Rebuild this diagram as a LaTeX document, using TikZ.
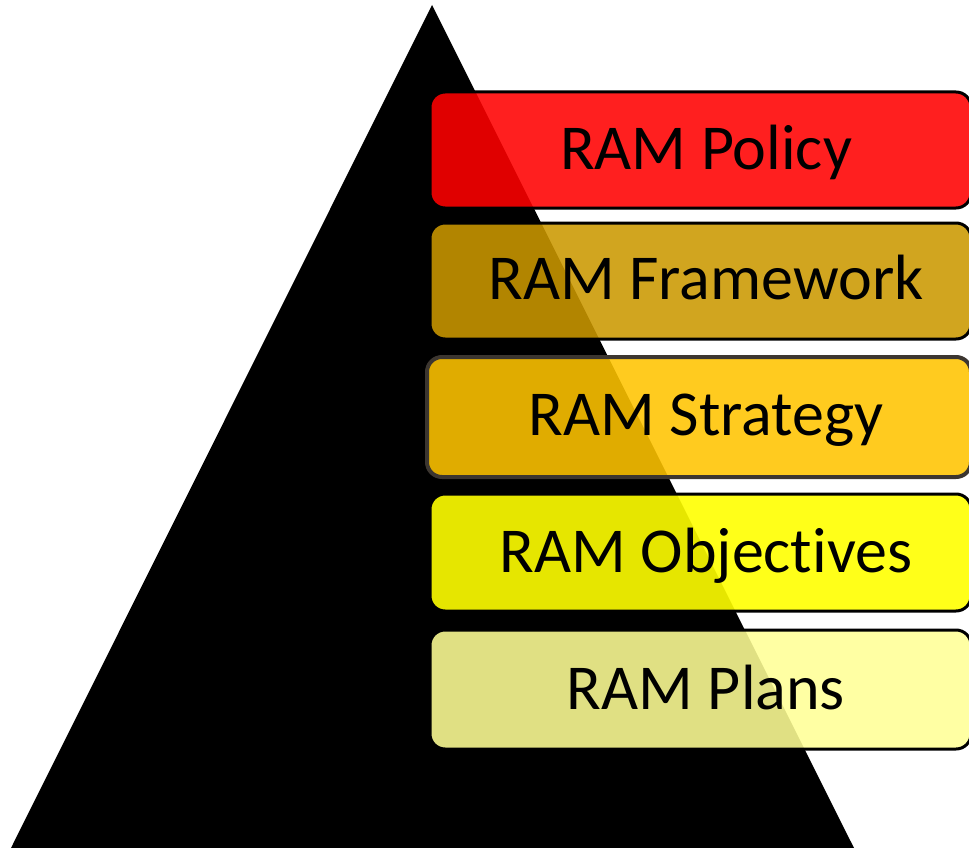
\documentclass[tikz,border=0pt]{standalone}
\usepackage{fontspec}
\setmainfont{Carlito}[Ligatures={NoCommon}]
\definecolor{cPolicy}{RGB}{255,0,0}
\definecolor{cFrame}{RGB}{203,152,0}
\definecolor{cStrat}{RGB}{255,196,0}
\definecolor{cObj}{RGB}{255,255,0}
\definecolor{cPlan}{RGB}{255,255,150}
\definecolor{cStratBorder}{RGB}{60,54,48}
\tikzset{
  tierbox/.style={draw=black, line width=3pt, rounded corners=15pt, fill opacity=0.88,
    anchor=north west, minimum width=541pt, inner sep=0pt, outer sep=0pt},
  tierlabel/.style={anchor=base, font=\fontsize{64}{72}\selectfont, inner sep=0pt, text=black}
}
\begin{document}
\begin{tikzpicture}[x=1pt,y=-1pt]
\useasboundingbox (0,0) rectangle (969,848);
\clip (0,0) rectangle (969,848);
\fill[black] (432,5) -- (9,852) -- (856,852) -- cycle;
\node[tierbox, fill=cPolicy, minimum height=116pt] (b1) at (430,92) {};
\node[tierbox, fill=cFrame, minimum height=116pt] (b2) at (430,223) {};
\node[tierbox, fill=cStrat, draw=cStratBorder, line width=4pt, minimum width=544pt, minimum height=120pt] (b3) at (427,357) {};
\node[tierbox, fill=cObj, fill opacity=0.9, minimum height=117pt] (b4) at (430,494) {};
\node[tierbox, fill=cPlan, minimum height=119pt] (b5) at (430,630) {};
\node[tierlabel] (t1) at ([yshift=-19pt]b1.center -| 706,0) {RAM Policy};
\node[tierlabel] (t2) at ([yshift=-18pt]b2.center -| 706,0) {RAM Framework};
\node[tierlabel] (t3) at ([yshift=-18pt]b3.center -| 706,0) {RAM Strategy};
\node[tierlabel] (t4) at ([yshift=-20pt]b4.center -| 706,0) {RAM Objectives};
\node[tierlabel] (t5) at ([yshift=-20pt]b5.center -| 706,0) {RAM Plans};
\end{tikzpicture}
\end{document}
